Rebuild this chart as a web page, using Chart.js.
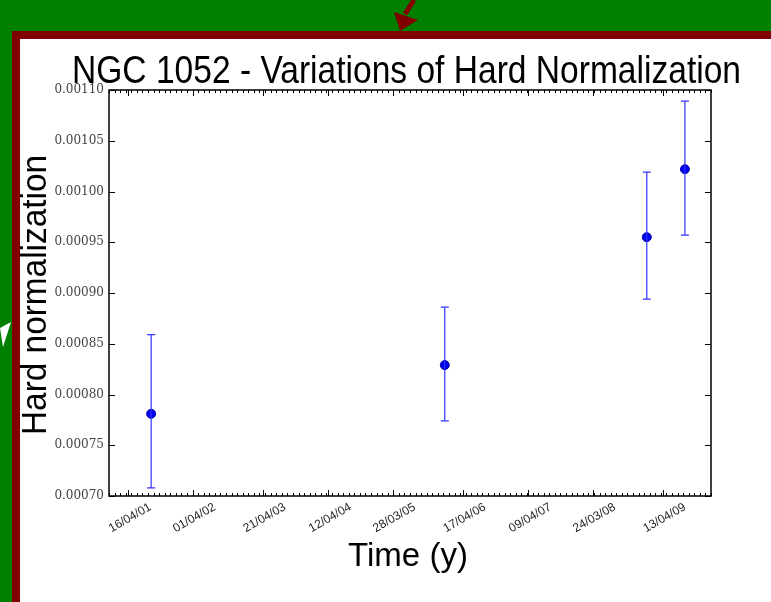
<!DOCTYPE html>
<html>
<head>
<meta charset="utf-8">
<script src="https://cdn.jsdelivr.net/npm/chart.js@4"></script>
<style>
  html, body { margin: 0; padding: 0; width: 771px; height: 602px; overflow: hidden; background: #008000; }
  #frame { position: absolute; left: 12px; top: 31px; width: 771px; height: 600px; background: #800000; }
  #white { position: absolute; left: 20px; top: 39px; width: 751px; height: 563px; background: #fff; }
  #wrap { position: absolute; left: 20px; top: 39px; width: 751px; height: 563px; }
</style>
</head>
<body>
<div id="frame"></div>
<div id="white"></div>
<svg style="position:absolute;left:0;top:0" width="771" height="602">
  <line x1="414" y1="0" x2="405" y2="14" stroke="#800000" stroke-width="5"/>
  <polygon points="394,12 418,20 400,31" fill="#800000"/>
  <polygon points="0,328 11,322 3,347" fill="#fff"/>
</svg>
<div id="wrap"><canvas id="chart" width="751" height="563"></canvas></div>
<script>
// decimal years
var obsTimes = [2001.63, 2006.02, 2009.04, 2009.61];
var hardNorm = [0.000781, 0.000829, 0.000955, 0.001022];
var errLow   = [0.000708, 0.000774, 0.000894, 0.000957];
var errHigh  = [0.000859, 0.000886, 0.001019, 0.001089];
var tickYears  = [2001.29, 2002.25, 2003.30, 2004.28, 2005.24, 2006.29, 2007.27, 2008.23, 2009.28];
var tickLabels = ['16/04/01', '01/04/02', '21/04/03', '12/04/04', '28/03/05', '17/04/06', '09/04/07', '24/03/08', '13/04/09'];

var points = obsTimes.map(function(t, i){ return { x: t, y: hardNorm[i] }; });

// text squeezed/stretched to the width seen in the picture
function fitText(ctx, txt, x, y, size, width) {
  ctx.font = size + 'px "Liberation Sans", Arial, sans-serif';
  var w = ctx.measureText(txt).width;
  ctx.save();
  ctx.translate(x, y);
  ctx.scale(width / w, 1);
  ctx.fillText(txt, 0, 0);
  ctx.restore();
}

var extras = {
  id: 'extras',
  afterDatasetsDraw: function(chart) {
    var ctx = chart.ctx, xs = chart.scales.x, ys = chart.scales.y;
    ctx.save();
    ctx.strokeStyle = '#3333ff';
    ctx.lineWidth = 1.2;
    obsTimes.forEach(function(t, i){
      var px = xs.getPixelForValue(t);
      var top = ys.getPixelForValue(errHigh[i]), bot = ys.getPixelForValue(errLow[i]);
      ctx.beginPath();
      ctx.moveTo(px, top); ctx.lineTo(px, bot);
      ctx.moveTo(px - 4, top); ctx.lineTo(px + 4, top);
      ctx.moveTo(px - 4, bot); ctx.lineTo(px + 4, bot);
      ctx.stroke();
    });
    ctx.restore();
  },
  afterDraw: function(chart) {
    var ctx = chart.ctx, xs = chart.scales.x, ys = chart.scales.y, a = chart.chartArea;
    ctx.save();
    ctx.strokeStyle = '#000';
    ctx.lineWidth = 1;
    ctx.beginPath();
    tickYears.forEach(function(t){
      var px = Math.round(xs.getPixelForValue(t)) + 0.5;
      ctx.moveTo(px, a.bottom); ctx.lineTo(px, a.bottom - 6);
      ctx.moveTo(px, a.top); ctx.lineTo(px, a.top + 6);
    });
    for (var m = 2001; m <= 2010; m += 1/12) {
      var px = Math.round(xs.getPixelForValue(m)) + 0.5;
      ctx.moveTo(px, a.bottom); ctx.lineTo(px, a.bottom - 3);
      ctx.moveTo(px, a.top); ctx.lineTo(px, a.top + 3);
    }
    ys.ticks.forEach(function(tk){
      var py = Math.round(ys.getPixelForValue(tk.value)) + 0.5;
      ctx.moveTo(a.left, py); ctx.lineTo(a.left + 6, py);
      ctx.moveTo(a.right, py); ctx.lineTo(a.right - 6, py);
    });
    ctx.stroke();
    ctx.lineWidth = 1.5;
    ctx.strokeRect(a.left, a.top, a.right - a.left, a.bottom - a.top);

    ctx.fillStyle = '#000';
    ctx.textAlign = 'center';
    ctx.textBaseline = 'alphabetic';
    fitText(ctx, 'NGC 1052 - Variations of Hard Normalization', 386.5, 44, 39, 669);
    fitText(ctx, 'Time (y)', 388, 527, 33, 120);
    ctx.translate(26, 256);
    ctx.rotate(-Math.PI / 2);
    fitText(ctx, 'Hard normalization', 0, 0, 35, 280);
    ctx.restore();
  }
};

new Chart(document.getElementById('chart'), {
  type: 'scatter',
  data: {
    datasets: [{
      data: points,
      backgroundColor: '#0000ee',
      borderColor: '#0000aa',
      borderWidth: 1,
      pointRadius: 4.5
    }]
  },
  options: {
    responsive: false,
    animation: false,
    layout: { padding: { top: 51, right: 60, bottom: 0, left: 0 } },
    plugins: { legend: { display: false }, tooltip: { enabled: false } },
    scales: {
      x: {
        type: 'linear',
        min: 2001, max: 2010,
        afterBuildTicks: function(s){ s.ticks = tickYears.map(function(v){ return { value: v }; }); },
        afterFit: function(s){ s.height = 106; },
        grid: { display: false, drawTicks: false },
        border: { display: false },
        ticks: {
          minRotation: 30, maxRotation: 30, padding: 4, labelOffset: 22,
          color: '#222',
          font: { family: '"Liberation Sans", Arial, sans-serif', size: 12 },
          callback: function(v, i){ return tickLabels[i]; }
        }
      },
      y: {
        min: 0.0007, max: 0.0011,
        afterFit: function(s){ s.width = 89; },
        grid: { display: false, drawTicks: false },
        border: { display: false },
        ticks: {
          stepSize: 0.00005, padding: 5,
          color: '#444',
          font: { family: '"DejaVu Serif", serif', size: 12 },
          callback: function(v){ return v.toFixed(5); }
        }
      }
    }
  },
  plugins: [extras]
});
</script>
</body>
</html>
